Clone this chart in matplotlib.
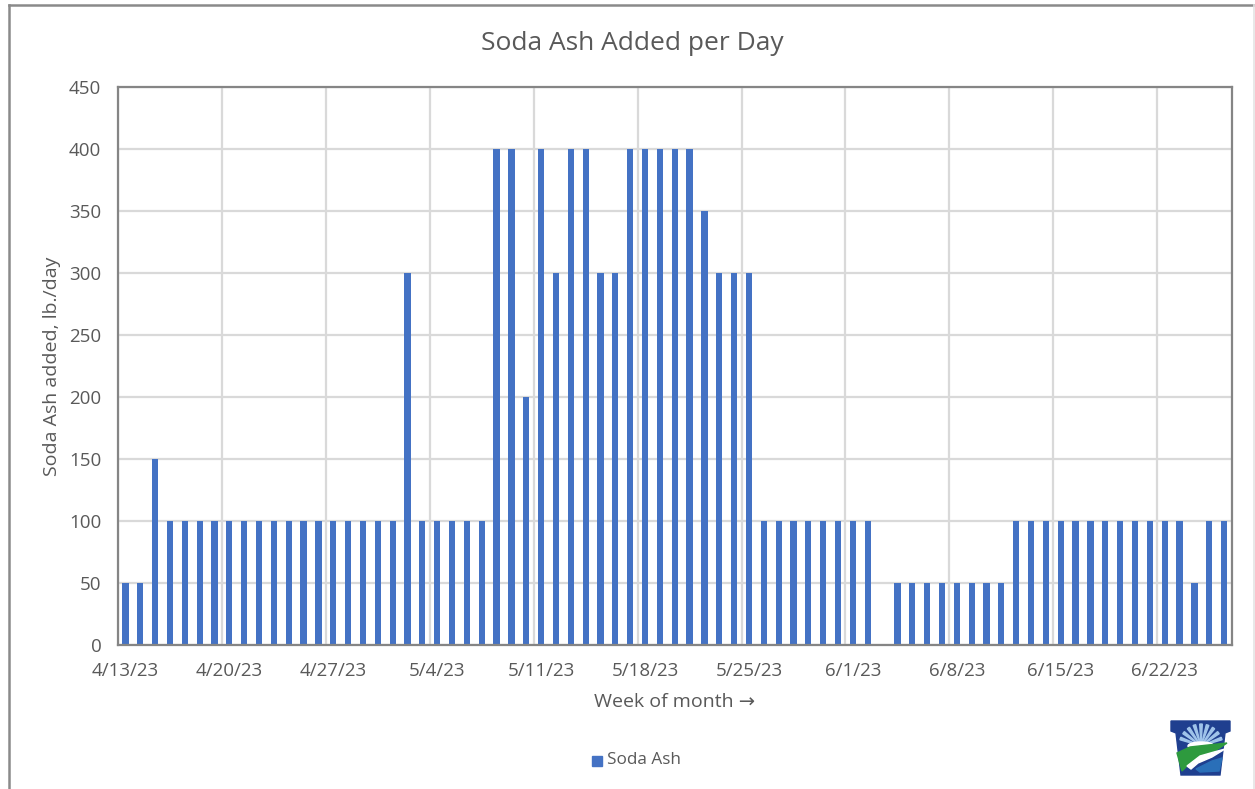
import matplotlib
matplotlib.use("Agg")
import matplotlib.pyplot as plt
import numpy as np
import pandas as pd
from matplotlib.patches import Rectangle, Polygon, Ellipse
from matplotlib.lines import Line2D

plt.rcParams['font.family'] = ['Open Sans', 'DejaVu Sans']

# Daily soda ash dose, lb/day, starting 4/13/23 (one value per calendar day)
start_date = "2023-04-13"
soda_ash = [50, 50, 150,
            100, 100, 100, 100, 100, 100, 100, 100, 100, 100, 100, 100, 100, 100, 100, 100,
            300,
            100, 100, 100, 100, 100,
            400, 400, 200, 400, 300, 400, 400, 300, 300, 400, 400, 400, 400, 400, 350, 300, 300, 300,
            100, 100, 100, 100, 100, 100, 100, 100,
            0,
            50, 50, 50, 50, 50, 50, 50, 50,
            100, 100, 100, 100, 100, 100, 100, 100, 100, 100, 100, 100,
            50, 100, 100]
dates = pd.date_range(start_date, periods=len(soda_ash), freq="D")
week_labels = [d.strftime("%-m/%-d/%y") for d in dates[::7]]
y_ticks = [0, 50, 100, 150, 200, 250, 300, 350, 400, 450]

W, H = 1255, 789
fig = plt.figure(figsize=(W / 100, H / 100), dpi=100)
fig.patch.set_facecolor("white")

text_color = "#595959"
bar_color = "#4472C4"

def fx(px):
    return px / W

def fy(py):
    return 1 - py / H

left, right, top, bottom = 118, 1231.5, 87, 645
ax = fig.add_axes([fx(left), fy(bottom), fx(right - left), (bottom - top) / H])

x = np.arange(len(soda_ash)) + 0.5
ax.bar(x, soda_ash, width=0.42, color=bar_color, zorder=3, label="Soda Ash")

ax.set_xlim(0, len(soda_ash))
ax.set_ylim(0, 450)

# gridlines on week boundaries, labels centred on the day
ax.set_xticks(np.arange(0, len(soda_ash), 7))
ax.set_xticklabels([])
ax.set_xticks(np.arange(0, len(soda_ash), 7) + 0.5, minor=True)
ax.set_xticklabels(week_labels, minor=True)
ax.set_yticks(y_ticks)
ax.set_yticklabels([str(v) for v in y_ticks])

ax.tick_params(axis="both", which="both", length=0, colors=text_color, labelsize=13.5)
ax.tick_params(axis="x", which="minor", pad=12)
ax.tick_params(axis="y", pad=12)

ax.grid(True, which="major", color="#d9d9d9", linewidth=1.6, zorder=0)
for sp in ax.spines.values():
    sp.set_color("#858585")
    sp.set_linewidth(1.6)
    sp.set_zorder(4)

plot_w, plot_h = right - left, bottom - top
ax.set_xlabel("Week of month \u2192", color=text_color, fontsize=14)
ax.xaxis.set_label_coords(0.5, -(702 - bottom) / plot_h)
ax.xaxis.label.set_va("center")
ax.set_ylabel("Soda Ash added, lb./day", color=text_color, fontsize=14)
ax.yaxis.set_label_coords(-(left - 52) / plot_w, 0.5)
ax.yaxis.label.set_va("center")

fig.text(fx(632), fy(43), "Soda Ash Added per Day", ha="center", va="center",
         fontsize=19, color=text_color)

# legend
fig.patches.append(Rectangle((fx(592), fy(766)), fx(10), 10 / H, color=bar_color,
                             transform=fig.transFigure))
fig.text(fx(607), fy(760), "Soda Ash", ha="left", va="center", fontsize=12.3, color=text_color)

# outer chart frame
fig.add_artist(Line2D([fx(8.5), fx(1255)], [fy(5), fy(5)], color="#8a8a8a", lw=1.8,
                      transform=fig.transFigure))
fig.add_artist(Line2D([fx(8.5), fx(8.5)], [fy(5), fy(789)], color="#8a8a8a", lw=1.8,
                      transform=fig.transFigure))
fig.add_artist(Line2D([fx(1254), fx(1254)], [fy(5), fy(789)], color="#e4e4e4", lw=1.2,
                      transform=fig.transFigure))

# keystone emblem in the lower right corner
def poly(pts, color, z=5):
    p = Polygon([(fx(a), fy(b)) for a, b in pts], closed=True, color=color,
                transform=fig.transFigure, zorder=z)
    fig.add_artist(p)

poly([(1171, 721), (1230, 721), (1230, 731), (1225, 733), (1220, 775),
      (1181, 775), (1176, 733), (1171, 731)], "#1f3f8f")
# sunburst glow
for ang in np.linspace(200, 340, 9):
    r = np.deg2rad(ang)
    cx, cy = 1201, 746
    poly([(cx, cy), (cx + 22 * np.cos(r - 0.06), cy + 22 * np.sin(r - 0.06)),
          (cx + 22 * np.cos(r + 0.06), cy + 22 * np.sin(r + 0.06))], "#9fc3ea", 6)
fig.add_artist(Ellipse((fx(1201), fy(746)), fx(26), 8 / H, color="white",
                       transform=fig.transFigure, zorder=7))
# green hills / leaf
poly([(1177, 753), (1190, 747), (1208, 745), (1227, 743), (1215, 751),
      (1200, 757), (1188, 765), (1182, 771)], "#2e9a3e", 8)
poly([(1187, 766), (1200, 756), (1214, 752), (1225, 749), (1212, 757),
      (1198, 763), (1191, 769)], "white", 8)
poly([(1196, 769), (1212, 761), (1222, 758), (1219, 771), (1200, 772)], "#2a6fb8", 8)

fig.savefig("out.png", dpi=100, facecolor="white")
